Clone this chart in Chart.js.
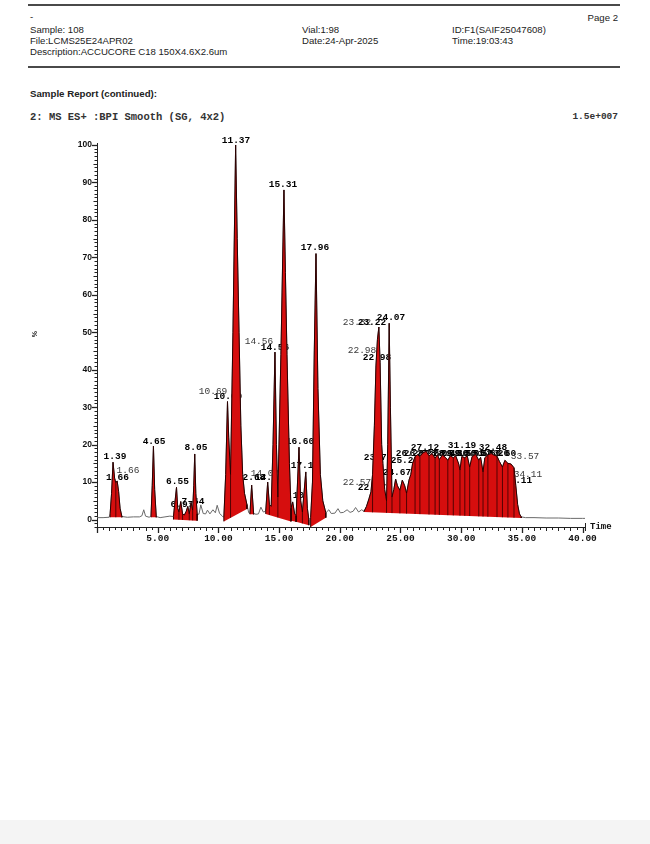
<!DOCTYPE html>
<html><head><meta charset="utf-8">
<script src="https://cdn.jsdelivr.net/npm/chart.js@4.4.1/dist/chart.umd.min.js"></script>
<style>
html,body{margin:0;padding:0;background:#fff;width:650px;height:844px;overflow:hidden;position:relative;}
.t{position:absolute;font-family:"Liberation Sans",Arial,sans-serif;font-size:9.6px;color:#222;white-space:nowrap;line-height:10px;}
.b{font-weight:bold;}
.m{font-family:"Liberation Mono","DejaVu Sans Mono",monospace;font-weight:bold;color:#333;}
.hr{position:absolute;left:28px;width:592px;height:2px;background:#4a4a4a;}
#wrap{position:absolute;left:0;top:125px;width:650px;height:435px;}
#foot{position:absolute;left:0;top:820px;width:650px;height:24px;background:#f4f4f4;}
</style></head><body>
<div class="hr" style="top:4px"></div>
<div class="t" style="left:30px;top:12px">-</div>
<div class="t" style="right:32px;top:13px">Page 2</div>
<div class="t" style="left:30px;top:25px">Sample: 108</div>
<div class="t" style="left:30px;top:36px">File:LCMS25E24APR02</div>
<div class="t" style="left:30px;top:47px">Description:ACCUCORE C18 150X4.6X2.6um</div>
<div class="t" style="left:302px;top:25px">Vial:1:98</div>
<div class="t" style="left:302px;top:36px">Date:24-Apr-2025</div>
<div class="t" style="left:452px;top:25px">ID:F1(SAIF25047608)</div>
<div class="t" style="left:452px;top:36px">Time:19:03:43</div>
<div class="hr" style="top:66px"></div>
<div class="t b" style="left:30px;top:89px;font-size:9.7px">Sample Report (continued):</div>
<div class="t m" style="left:30px;top:112px;font-size:10.5px">2: MS ES+ :BPI Smooth (SG, 4x2)</div>
<div class="t m" style="right:32px;top:112px;font-size:9.5px">1.5e+007</div>
<div id="wrap"><canvas id="c" width="650" height="435"></canvas></div>
<div id="foot"></div>
<script>
// ---- chromatogram trace (retention time, %) ----
const traceTime = [0,0.5,1.0,1.08,1.2,1.32,1.45,1.55,1.66,1.78,1.9,2.05,2.5,3.0,3.5,3.7,3.85,4.0,4.3,4.45,4.55,4.65,4.75,4.88,5.2,5.6,6.0,6.3,6.4,6.55,6.65,6.75,6.9,7.05,7.2,7.35,7.48,7.6,7.75,7.88,7.97,8.05,8.14,8.25,8.4,8.55,8.75,8.95,9.1,9.3,9.55,9.75,9.9,10.1,10.3,10.45,10.6,10.75,10.85,11.0,11.2,11.42,11.55,11.7,11.85,12.0,12.15,12.35,12.5,12.6,12.74,12.9,13.1,13.3,13.5,13.7,13.9,14.06,14.2,14.35,14.5,14.66,14.78,14.9,15.15,15.4,15.52,15.65,15.85,15.98,16.12,16.28,16.4,16.52,16.64,16.78,16.92,17.05,17.2,17.33,17.45,17.6,17.75,17.9,18.04,18.2,18.4,18.6,18.85,19.1,19.3,19.6,19.85,20.05,20.3,20.6,20.85,21.1,21.3,21.55,21.8,22.0,22.2,22.4,22.57,22.7,22.85,22.98,23.1,23.22,23.32,23.45,23.55,23.7,23.85,23.95,24.07,24.17,24.3,24.45,24.6,24.75,24.95,25.15,25.35,25.5,25.7,25.85,26.0,26.2,26.4,26.6,26.85,27.12,27.35,27.6,27.85,28.05,28.2,28.45,28.7,28.9,29.1,29.35,29.55,29.8,29.9,30.05,30.3,30.5,30.7,30.9,31.19,31.45,31.6,31.8,31.95,32.2,32.48,32.7,32.95,33.15,33.4,33.6,33.85,34.11,34.35,34.5,34.65,34.8,34.95,35.3,36,37,38,39,40,40.2];
const traceValue = [0.5,0.5,0.6,1.5,7,15.3,11,9.8,10.3,7.5,3,0.8,0.6,0.7,0.7,1.0,2.6,0.9,0.6,1.0,9,19.6,8,0.8,0.5,0.7,0.9,0.8,4,8.6,3,2,4.8,1.5,1.2,2.2,3.5,1.5,4.5,2.5,9,17.5,7,1.5,1.4,3.9,1.6,1.5,2.5,1.5,2.6,1.8,3.8,1.6,1.0,0.5,12,31.5,22,12,50,100,75,50,25,12,7,4,1.8,1.6,9.2,1.6,1.4,1.5,3.3,2.0,2.2,10,4,3.5,20,44.7,20,6,44,88,66,44,15,3,4.7,1.5,1,10,19.3,5,2,7,12.7,3,0,0.5,10,45,71,35,12,5,1.8,2.6,1.6,1.7,2.9,1.8,1.9,2.6,1.9,2.2,3.2,2.0,2.6,2.2,3.5,5.5,7.4,12,25,41,48,51.4,42,20,15,8,5,20,52.4,30,6,8,10.8,9,7.8,10.5,9,7,10.5,12,15,16.8,17.3,16.8,17.8,18.2,17,17.6,16.4,17.3,16,17.2,16.6,15.8,17,16.5,17,14.8,13.2,16.8,16.5,17,14,16.8,17.4,15.8,16.6,12.7,16.5,17.3,17.6,17.2,16.9,15.5,14,15.8,15,14.8,13.8,9,4,1.5,0.7,0.5,0.5,0.4,0.4,0.3,0.3,0.3];

// ---- integrated peak areas: start/end time and integration baseline level ----
const fillStart     = [1.08, 4.45, 6.3, 10.45, 12.6, 13.9, 15.98, 16.4, 17.6, 22.0];
const fillEnd       = [2.05, 4.88, 8.25, 12.35, 12.9, 15.98, 16.4, 17.45, 18.85, 34.95];
const fillBaseStart = [0.6, 0.6, 0.0, -0.5, 1.4, 1.5, -0.3, -0.6, -2.0, 2.0];
const fillBaseEnd   = [0.6, 0.6, -0.3, 2.8, 1.4, -0.5, -0.6, -1.5, 0.5, 0.4];

// ---- drop lines between adjacent integrated peaks ----
const dropTimes = [1.55,6.75,7.05,7.6,7.88,11.0,14.2,14.9,16.92,22.7,23.85,24.3,24.95,25.5,26.2,26.6,27.35,27.85,28.2,28.9,29.35,29.9,30.3,30.7,31.45,31.8,32.2,32.95,33.4,33.85,34.35];

// ---- peak labels ----
const labelText  = ["1.39","1.66","1.66","4.65","6.55","6.97","7.64","8.05","10.69","10.69","11.37","12.68","14.07","14.07","14.56","14.56","15.31","16.10","16.60","17.15","17.96","22.57","22.57","22.98","22.98","23.32","23.22","24.07","23.72","24.67","25.27","26.20","26.62","27.12","27.60","28.05","28.45","29.10","29.55","30.05","30.50","31.19","31.60","32.20","32.48","33.60","33.57","34.11","34.11"];
const labelTime  = [1.48,1.69,2.55,4.70,6.63,7.0,7.91,8.15,9.56,10.79,11.45,12.69,13.84,14.17,13.34,14.66,15.32,15.9,16.72,17.13,17.96,21.42,22.65,21.83,23.06,21.42,22.65,24.22,23.15,24.71,25.37,25.78,26.44,27.02,27.51,28.17,28.83,29.49,30.15,30.81,31.47,30.07,32.13,32.78,32.62,33.36,35.26,35.5,34.68];
const labelValue = [16.9,11.1,13.2,20.9,10.0,3.9,4.7,19.3,34.3,32.9,101.2,11.1,12.4,11.3,47.6,46.0,89.5,6.5,20.9,14.5,72.7,10,8.4,45.2,43.3,52.7,52.7,54.0,16.4,12.4,15.6,17.5,17.5,19.3,17.5,17.5,17.5,17.5,17.5,17.5,17.5,19.6,17.5,17.5,19.3,17.7,16.7,12.1,10.3];
const labelBold  = [1,1,0,1,1,1,1,1,0,1,1,1,0,1,0,1,1,1,1,1,1,0,1,0,1,0,1,1,1,1,1,1,1,1,1,1,1,1,1,1,1,1,1,1,1,1,0,0,1];

// ---- axes ----
const xTickValues = [5,10,15,20,25,30,35,40];
const yTickValues = [0,10,20,30,40,50,60,70,80,90,100];

const tracePts = traceTime.map((t,i)=>({x:t,y:traceValue[i]}));
const datasets = [{
  data: tracePts, borderColor:'#6a6a6a', borderWidth:1, pointRadius:0, fill:false, order:3
}];
fillStart.forEach((s,r)=>{
  const e = fillEnd[r];
  const pts = [{x:s,y:fillBaseStart[r]}];
  traceTime.forEach((t,i)=>{ if(t>=s && t<=e) pts.push({x:t,y:traceValue[i]}); });
  pts.push({x:e,y:fillBaseEnd[r]});
  datasets.push({data:pts, borderColor:'#2a0000', borderWidth:1, backgroundColor:'rgb(214,14,14)', fill:'shape', pointRadius:0, order:2});
});
const dropPts = [];
dropTimes.forEach(dt=>{
  const r = fillStart.findIndex((s,k)=>dt>=s && dt<=fillEnd[k]);
  const idx = traceTime.indexOf(dt);
  if(r<0 || idx<0) return;
  const base = fillBaseStart[r] + (fillBaseEnd[r]-fillBaseStart[r])*(dt-fillStart[r])/(fillEnd[r]-fillStart[r]);
  dropPts.push({x:dt,y:base},{x:dt,y:traceValue[idx]},{x:dt,y:null});
});
datasets.push({data:dropPts, borderColor:'rgba(60,0,0,0.85)', borderWidth:1, pointRadius:0, fill:false, spanGaps:false, order:1});

const deco = {
  id:'deco',
  beforeDatasetsDraw(chart){
    const ctx = chart.ctx, xs = chart.scales.x, ys = chart.scales.y;
    ctx.save();
    ctx.textAlign='center'; ctx.textBaseline='middle';
    labelText.forEach((txt,i)=>{
      ctx.font = (labelBold[i] ? 'bold ' : '') + '9.5px "Liberation Mono", "DejaVu Sans Mono", monospace';
      ctx.fillStyle = labelBold[i] ? '#000' : '#3a3a3a';
      ctx.fillText(txt, xs.getPixelForValue(labelTime[i]), ys.getPixelForValue(labelValue[i]));
    });
    ctx.restore();
  },
  afterDraw(chart){
    const ctx = chart.ctx, xs = chart.scales.x, ys = chart.scales.y, a = chart.chartArea;
    ctx.save();
    ctx.strokeStyle='#222';
    for(let i=0;i<=80;i++){
      const t=i/2, px=Math.round(xs.getPixelForValue(t))+0.5;
      const len = i%10===0?6:(i%2===0?4:3);
      ctx.lineWidth = i%10===0?1.3:1;
      ctx.beginPath(); ctx.moveTo(px,a.bottom); ctx.lineTo(px,a.bottom+len); ctx.stroke();
    }
    for(let v=-2;v<=100;v++){
      const py=Math.round(ys.getPixelForValue(v))+0.5;
      const len = v%10===0?5:(v%5===0?3.5:2.5);
      ctx.lineWidth = v%10===0?1.3:1;
      ctx.beginPath(); ctx.moveTo(a.left-len,py); ctx.lineTo(a.left,py); ctx.stroke();
    }
    ctx.lineWidth=1;
    ctx.beginPath(); ctx.moveTo(a.right+0.5,a.bottom-4); ctx.lineTo(a.right+0.5,a.bottom+4); ctx.stroke();
    ctx.fillStyle='#111';
    ctx.font='bold 9px "Liberation Mono", monospace';
    ctx.textAlign='left'; ctx.textBaseline='middle';
    ctx.fillText('Time', a.right+5, a.bottom);
    ctx.translate(35, ys.getPixelForValue(49.5));
    ctx.rotate(-Math.PI/2);
    ctx.textAlign='center';
    ctx.font='bold 7px "Liberation Sans", sans-serif';
    ctx.fillText('%',0,0);
    ctx.restore();
  }
};

new Chart(document.getElementById('c'), {
  type:'line',
  data:{datasets},
  options:{
    responsive:false, animation:false, devicePixelRatio:1,
    layout:{padding:{top:18.5,right:65,left:0,bottom:0}},
    plugins:{legend:{display:false}, tooltip:{enabled:false}},
    elements:{line:{tension:0}, point:{radius:0}},
    scales:{
      x:{type:'linear', min:0, max:40.2,
        afterBuildTicks:s=>{ s.ticks = xTickValues.map(v=>({value:v})); },
        afterFit:s=>{ s.height = 33; },
        grid:{display:false, drawTicks:false},
        border:{display:true, color:'#222', width:1},
        ticks:{padding:6, maxRotation:0, autoSkip:false, color:'#111',
          font:{family:'"Liberation Mono", monospace', weight:'bold', size:9.5},
          callback:v=>Number(v).toFixed(2)}
      },
      y:{type:'linear', min:-2, max:100.4,
        afterBuildTicks:s=>{ s.ticks = yTickValues.map(v=>({value:v})); },
        afterFit:s=>{ s.width = 97; },
        grid:{display:false, drawTicks:false},
        border:{display:true, color:'#222', width:1},
        ticks:{padding:5, autoSkip:false, color:'#111',
          font:{family:'"Liberation Sans", sans-serif', weight:'bold', size:8.5}}
      }
    }
  },
  plugins:[deco]
});
</script>
</body></html>
